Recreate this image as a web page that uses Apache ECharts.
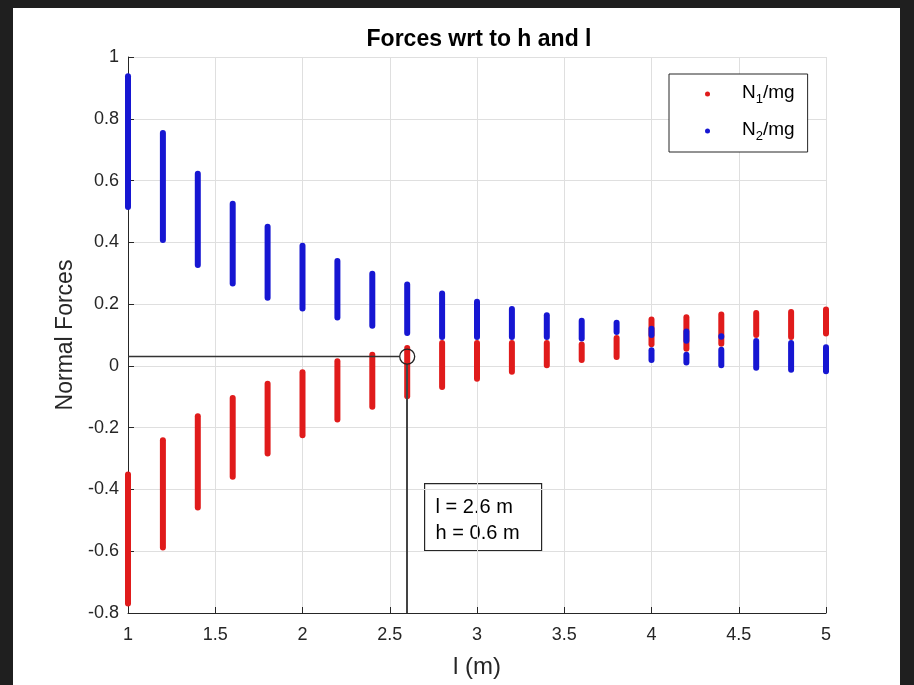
<!DOCTYPE html>
<html>
<head>
<meta charset="utf-8">
<script src="https://cdn.jsdelivr.net/npm/echarts@6/dist/echarts.min.js"></script>
<style>
  html, body { margin: 0; padding: 0; background: #1f1f1f; }
  #frame { position: absolute; left: 13px; top: 8px; width: 887px; height: 677px; background: #ffffff; }
  #chart { position: absolute; left: 0; top: 0; width: 914px; height: 685px; }
</style>
</head>
<body>
<div id="frame"></div>
<div id="chart"></div>
<script>
// ---- data ----
const lValues = [1, 1.2, 1.4, 1.6, 1.8, 2, 2.2, 2.4, 2.6, 2.8, 3, 3.2, 3.4, 3.6, 3.8, 4, 4.2, 4.4, 4.6, 4.8, 5];
// visible extent of N1/mg (red) column at each l
const n1Low  = [-0.779, -0.598, -0.468, -0.369, -0.293, -0.234, -0.183, -0.142, -0.108, -0.078, -0.051, -0.029, -0.008, 0.009, 0.019, 0.060, 0.046, 0.062, 0.090, 0.084, 0.095];
const n1High = [-0.342, -0.231, -0.153, -0.094, -0.048, -0.011, 0.025, 0.046, 0.068, 0.084, 0.084, 0.084, 0.084, 0.079, 0.100, 0.160, 0.167, 0.176, 0.181, 0.184, 0.192];
// visible extent of N2/mg (blue) column at each l
const n2Low  = [0.505, 0.398, 0.317, 0.257, 0.211, 0.176, 0.147, 0.120, 0.097, 0.084, 0.084, 0.084, 0.084, 0.079, 0.100, 0.009, 0.001, -0.008, -0.016, -0.022, -0.027];
const n2High = [0.947, 0.764, 0.632, 0.535, 0.460, 0.399, 0.349, 0.308, 0.273, 0.244, 0.217, 0.194, 0.174, 0.156, 0.149, 0.060, 0.046, 0.062, 0.090, 0.084, 0.070];
// blue bands showing through the red where the two overlap
const n2BandL    = [4.0, 4.2, 4.4];
const n2BandLow  = [0.090, 0.072, 0.085];
const n2BandHigh = [0.130, 0.121, 0.106];
// marked point
const markL = 2.6;
const markN1 = 0.03;
const noteText = ['l = 2.6 m', 'h = 0.6 m'];
// axes
const xMin = 1, xMax = 5, xStep = 0.5;
const yMin = -0.8, yMax = 1, yStep = 0.2;

const FONT = "'Liberation Sans', Arial, Helvetica, sans-serif";
const AX = '#262626';

const redData = lValues.map((l, i) => [l, n1Low[i], n1High[i]]);
const blueData = lValues.map((l, i) => [l, n2Low[i], n2High[i]])
  .concat(n2BandL.map((l, i) => [l, n2BandLow[i], n2BandHigh[i]]));

function renderRange(params, api) {
  const x = api.value(0), lo = api.value(1), hi = api.value(2);
  const pTop = api.coord([x, hi]);
  const pBot = api.coord([x, lo]);
  const w = 6;
  return {
    type: 'rect',
    shape: { x: pTop[0] - w / 2, y: pTop[1], width: w, height: Math.max(pBot[1] - pTop[1], w), r: w / 2 },
    style: { fill: api.visual('color') }
  };
}

const chart = echarts.init(document.getElementById('chart'), null, { renderer: 'canvas' });
chart.setOption({
  animation: false,
  backgroundColor: 'transparent',
  title: {
    text: 'Forces wrt to h and l',
    left: 474, top: 23, textAlign: 'center',
    textStyle: { fontFamily: FONT, fontWeight: 'bold', fontSize: 23, color: '#000' }
  },
  grid: { left: 128, right: 88, top: 57, bottom: 72, containLabel: false },
  legend: {
    data: ['N1', 'N2'],
    orient: 'vertical',
    left: 669, top: 74,
    padding: [9, 13, 9, 36],
    itemGap: 14,
    itemWidth: 5, itemHeight: 5,
    icon: 'circle',
    borderColor: AX, borderWidth: 1,
    backgroundColor: '#ffffff',
    formatter: name => name === 'N1' ? '{g|}{t|N}{s|1}{t|/mg}' : '{g|}{t|N}{s|2}{t|/mg}',
    textStyle: {
      fontFamily: FONT, color: '#000',
      rich: {
        g: { width: 27, height: 10 },
        t: { fontFamily: FONT, fontSize: 19, lineHeight: 22, verticalAlign: 'top', color: '#000' },
        s: { fontFamily: FONT, fontSize: 13, lineHeight: 13, padding: [10, 0, 0, 0], verticalAlign: 'top', color: '#000' }
      }
    }
  },
  xAxis: {
    type: 'value', min: xMin, max: xMax, interval: xStep,
    name: 'l (m)', nameLocation: 'middle', nameGap: 42,
    nameTextStyle: { fontFamily: FONT, fontSize: 24, color: AX },
    axisLine: { show: true, onZero: false, lineStyle: { color: AX, width: 1 } },
    axisTick: { show: true, inside: true, length: 6, lineStyle: { color: AX } },
    axisLabel: { fontFamily: FONT, fontSize: 18, color: AX, margin: 13 },
    splitLine: { show: true, lineStyle: { color: '#dfdfdf', width: 1 } }
  },
  yAxis: {
    type: 'value', min: yMin, max: yMax, interval: yStep,
    name: 'Normal Forces', nameLocation: 'middle', nameGap: 50, nameRotate: 90,
    nameTextStyle: { fontFamily: FONT, fontSize: 23, color: AX },
    axisLine: { show: true, onZero: false, lineStyle: { color: AX, width: 1 } },
    axisTick: { show: true, inside: true, length: 6, lineStyle: { color: AX } },
    axisLabel: { fontFamily: FONT, fontSize: 18, color: AX, margin: 9 },
    splitLine: { show: true, lineStyle: { color: '#dfdfdf', width: 1 } }
  },
  series: [
    {
      name: 'N1', type: 'custom', renderItem: renderRange, clip: false,
      itemStyle: { color: '#e01b1b' },
      encode: { x: 0, y: [1, 2] },
      data: redData, z: 2
    },
    {
      name: 'N2', type: 'custom', renderItem: renderRange, clip: false,
      itemStyle: { color: '#1616d2' },
      encode: { x: 0, y: [1, 2] },
      data: blueData, z: 3
    },
    {
      name: 'marker', type: 'line', data: [], z: 5,
      markLine: {
        silent: true, symbol: ['none', 'none'], label: { show: false },
        data: [
          [{ coord: [xMin, markN1], lineStyle: { color: '#333', width: 1.3, type: 'solid' } },
           { coord: [markL - 0.045, markN1] }],
          [{ coord: [markL, markN1 - 0.025], lineStyle: { color: '#444', width: 2, type: 'solid' } },
           { coord: [markL, yMin] }]
        ]
      },
      markPoint: {
        silent: true, symbol: 'circle', symbolSize: 15, label: { show: false },
        itemStyle: { color: 'rgba(0,0,0,0)', borderColor: '#222', borderWidth: 1.3 },
        data: [{ coord: [markL, markN1] }]
      }
    }
  ],
  graphic: [
    {
      type: 'group', left: 424, top: 483, z: 10,
      children: [
        { type: 'rect', shape: { x: 0, y: 0, width: 117, height: 67 },
          style: { fill: 'rgba(255,255,255,0)', stroke: AX, lineWidth: 1.2 } },
        { type: 'text', x: 11, y: 24,
          style: { text: noteText[0], font: '20px ' + FONT, fill: '#000', textVerticalAlign: 'middle' } },
        { type: 'text', x: 11, y: 50,
          style: { text: noteText[1], font: '20px ' + FONT, fill: '#000', textVerticalAlign: 'middle' } }
      ]
    }
  ]
});
</script>
</body>
</html>
